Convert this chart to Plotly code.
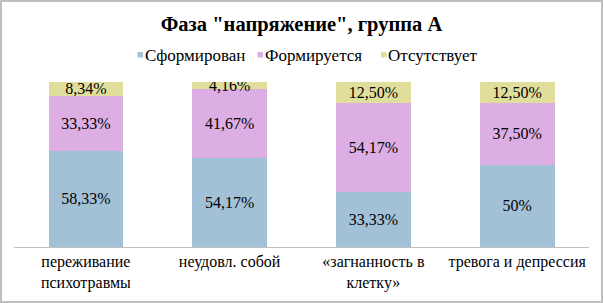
import plotly.graph_objects as go

categories = ["переживание<br>психотравмы", "неудовл. собой", "«загнанность в<br>клетку»", "тревога и депрессия"]
series_names = ["Сформирован", "Формируется", "Отсутствует"]
formed = [58.33, 54.17, 33.33, 50.0]
forming = [33.33, 41.67, 54.17, 37.50]
absent = [8.34, 4.16, 12.50, 12.50]
formed_labels = ["58,33%", "54,17%", "33,33%", "50%"]
forming_labels = ["33,33%", "41,67%", "54,17%", "37,50%"]
absent_labels = ["8,34%", "4,16%", "12,50%", "12,50%"]

colors = ["#A2C1D6", "#DDAEE3", "#E0DE9B"]
font_family = "'Times New Roman', 'Liberation Serif', 'DejaVu Serif', serif"

W, H = 603, 303
ML, MR, MT, MB = 14, 14, 82, 56
PW, PH = W - ML - MR, H - MT - MB


def px_x(px):
    return (px - ML) / PW


def px_y(py):
    return (H - MB - py) / PH


fig = go.Figure()
for name, vals, labels, col in zip(series_names, [formed, forming, absent],
                                   [formed_labels, forming_labels, absent_labels], colors):
    fig.add_trace(go.Bar(
        x=categories, y=vals, name=name, text=labels, showlegend=False,
        textposition="inside", insidetextanchor="middle", constraintext="none",
        textfont=dict(family=font_family, size=16, color="#000000"),
        marker=dict(color=col, line=dict(width=0)),
        hoverinfo="skip",
    ))

# legend drawn as keys + text (Excel-style compact legend)
legend_key_x = [137.5, 257.5, 381]
shapes = [dict(type="rect", xref="paper", yref="paper",
               x0=-13 / PW, x1=1 + 13 / PW, y0=-55 / PH, y1=1 + 81 / PH,
               line=dict(color="#BFBFBF", width=2), fillcolor="rgba(0,0,0,0)")]
annotations = []
for name, col, kx in zip(series_names, colors, legend_key_x):
    shapes.append(dict(type="rect", xref="paper", yref="paper",
                       x0=px_x(kx), x1=px_x(kx + 5.5), y0=px_y(57.5), y1=px_y(52),
                       line=dict(width=0), fillcolor=col))
    annotations.append(dict(text=name, xref="paper", yref="paper", x=px_x(kx + 5),
                            y=px_y(55.5), xanchor="left", yanchor="middle", showarrow=False,
                            font=dict(size=17, family=font_family, color="#000000")))

fig.update_layout(
    barmode="stack",
    bargap=0.48,
    width=W, height=H,
    margin=dict(l=ML, r=MR, t=MT, b=MB, autoexpand=False),
    paper_bgcolor="white", plot_bgcolor="white",
    font=dict(family=font_family, size=16, color="#000000"),
    title=dict(text="<b>Фаза \"напряжение\", группа А</b>", x=0.5, xanchor="center",
               y=0.922, yanchor="middle", font=dict(size=20.5, family=font_family, color="#000000")),
    showlegend=False,
    uniformtext=dict(mode=False),
    shapes=shapes,
    annotations=annotations,
)
fig.update_xaxes(showline=True, linecolor="#BFBFBF", linewidth=1, ticks="",
                 tickfont=dict(size=16, family=font_family), showgrid=False)
fig.update_yaxes(range=[0, 100], visible=False, showgrid=False)

fig.write_html("out.html", config={"displayModeBar": False},
               post_script="document.body.style.margin='0';document.body.style.padding='0';")
